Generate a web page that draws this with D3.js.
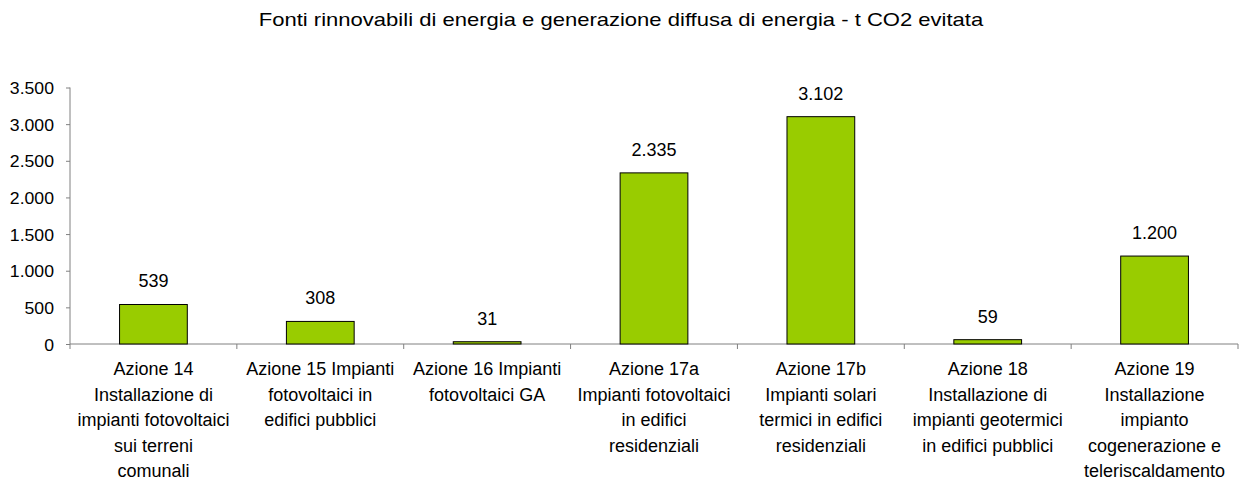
<!DOCTYPE html>
<html>
<head>
<meta charset="utf-8">
<script src="https://cdn.jsdelivr.net/npm/d3@7"></script>
<style>
  html, body { margin: 0; padding: 0; background: #fff; }
  svg { display: block; font-family: "Liberation Sans", Arial, sans-serif; }
</style>
</head>
<body>
<svg id="chart" width="1240" height="481"></svg>
<script>
// Title
const chartTitle = "Fonti rinnovabili di energia e generazione diffusa di energia - t CO2 evitata";

// Category labels, one entry per line of text
const categories = [
  ["Azione 14", "Installazione di", "impianti fotovoltaici", "sui terreni", "comunali"],
  ["Azione 15 Impianti", "fotovoltaici in", "edifici pubblici"],
  ["Azione 16 Impianti", "fotovoltaici GA"],
  ["Azione 17a", "Impianti fotovoltaici", "in edifici", "residenziali"],
  ["Azione 17b", "Impianti solari", "termici in edifici", "residenziali"],
  ["Azione 18", "Installazione di", "impianti geotermici", "in edifici pubblici"],
  ["Azione 19", "Installazione", "impianto", "cogenerazione e", "teleriscaldamento"]
];

// t CO2 avoided per action
const values = [539, 308, 31, 2335, 3102, 59, 1200];

// Y axis ticks
const yTicks = [0, 500, 1000, 1500, 2000, 2500, 3000, 3500];

const svg = d3.select("#chart");
const plotLeft = 70, plotRight = 1238, plotTop = 87.5, plotBottom = 344;

const fmt = v => d3.format(",")(v).replace(/,/g, ".");

const x = d3.scaleBand()
  .domain(d3.range(categories.length))
  .range([plotLeft, plotRight])
  .paddingInner(0.594)
  .paddingOuter(0.297);

const y = d3.scaleLinear().domain([0, 3500]).range([plotBottom, plotTop]);

// Title (slightly wide lettering)
svg.append("text")
  .attr("transform", "translate(621,26) scale(1.16,1)")
  .attr("text-anchor", "middle")
  .attr("font-size", 19)
  .attr("fill", "#000")
  .text(chartTitle);

// Y axis
const yAxis = svg.append("g")
  .attr("transform", `translate(${plotLeft},0)`)
  .call(d3.axisLeft(y).tickValues(yTicks).tickFormat(fmt).tickSize(4).tickPadding(0));
yAxis.selectAll("path, line").attr("stroke", "#808080");
yAxis.select(".domain").attr("d", `M0,${plotTop}V${plotBottom}`);
yAxis.selectAll(".tick text")
  .attr("x", null).attr("dy", null)
  .attr("transform", "translate(-16,6) scale(1.07,1)")
  .attr("font-size", 16.5).attr("fill", "#000")
  .attr("font-family", "Liberation Sans, Arial, sans-serif");

// X axis: baseline with boundary ticks between categories
const xg = svg.append("g");
xg.append("line")
  .attr("x1", plotLeft).attr("x2", plotRight)
  .attr("y1", plotBottom).attr("y2", plotBottom)
  .attr("stroke", "#808080");
const step = x.step();
const bounds = d3.range(categories.length + 1).map(i => plotLeft + i * step);
xg.selectAll("line.tick").data(bounds).join("line")
  .attr("class", "tick")
  .attr("x1", d => d).attr("x2", d => d)
  .attr("y1", plotBottom).attr("y2", plotBottom + 5)
  .attr("stroke", "#808080");

// Category labels
const lab = svg.append("g").selectAll("text").data(categories).join("text")
  .attr("text-anchor", "middle")
  .attr("font-size", 18)
  .attr("fill", "#000")
  .attr("transform", (d, i) => `translate(${x(i) + x.bandwidth() / 2},${plotBottom + 31})`);
lab.selectAll("tspan").data(d => d).join("tspan")
  .attr("x", 0)
  .attr("y", (d, j) => j * 25.5)
  .text(d => d);

// Bars
svg.append("g").selectAll("rect").data(values).join("rect")
  .attr("x", (d, i) => x(i))
  .attr("y", d => y(d))
  .attr("width", x.bandwidth())
  .attr("height", d => plotBottom - y(d))
  .attr("fill", "#99CC00")
  .attr("stroke", "#000")
  .attr("stroke-width", 1);

// Value labels
svg.append("g").selectAll("text").data(values).join("text")
  .attr("x", (d, i) => x(i) + x.bandwidth() / 2)
  .attr("y", d => y(d) - 17)
  .attr("text-anchor", "middle")
  .attr("font-size", 18)
  .attr("fill", "#000")
  .text(d => fmt(d));
</script>
</body>
</html>
